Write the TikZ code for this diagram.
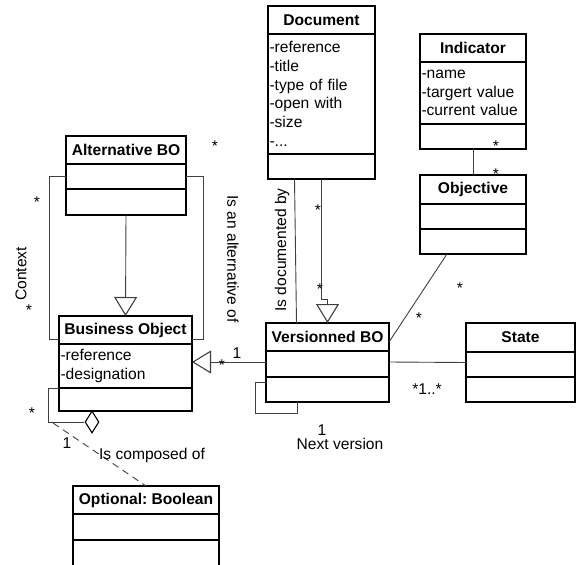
\documentclass[tikz,border=0pt]{standalone}
\usepackage{fontspec}
\setmainfont{Liberation Sans}
\usepackage{tikz}
\usetikzlibrary{arrows.meta,positioning,shapes.geometric}
\newcommand{\umlfont}{\fontsize{15.6}{18.7}\selectfont\frenchspacing}

\begin{document}
\begin{tikzpicture}[x=1pt,y=-1pt,node distance=0pt,font=\umlfont,
		class head/.style={draw,line width=1.1pt,anchor=north west,outer sep=0pt,inner sep=0pt,
			minimum width=#1,minimum height=28pt,font=\umlfont\bfseries},
		class part/.style={draw,line width=1.1pt,outer sep=0pt,inner sep=0pt,minimum width=#1,minimum height=25pt},
		class attr/.style={draw,line width=1.1pt,outer sep=0pt,inner xsep=1.5pt,inner ysep=0pt,
			text width=#1,align=left},
		assoc/.style={draw=black!75,line width=0.9pt},
		gen/.style={assoc,-{Triangle[open,length=19pt,width=23pt,line width=1.1pt]}},
		mult/.style={inner sep=0pt}]
	\useasboundingbox (0,0) rectangle (576,565);

	% classes
	\node[class head=107pt] (doc) at (268,6) {Document};
	\node[class attr=104pt,minimum height=120pt,below=of doc] (doc-attr) {-reference\\-title\\-type of file\\-open with\\-size\\-...};
	\node[class part=107pt,below=of doc-attr] (doc-ops) {};

	\node[class head=106pt] (ind) at (420,34) {Indicator};
	\node[class attr=103pt,minimum height=62pt,below=of ind] (ind-attr) {-name\\-targert value\\-current value};
	\node[class part=106pt,below=of ind-attr] (ind-ops) {};

	\node[class head=106pt,minimum height=29pt] (obj) at (420,175) {Objective};
	\node[class part=106pt,below=of obj] (obj-attr) {};
	\node[class part=106pt,below=of obj-attr] (obj-ops) {};

	\node[class head=120pt] (alt) at (66,136) {Alternative BO};
	\node[class part=120pt,below=of alt] (alt-attr) {};
	\node[class part=120pt,minimum height=26pt,below=of alt-attr] (alt-ops) {};

	\node[class head=133pt] (bo) at (59,316) {Business Object};
	\node[class attr=130pt,minimum height=44pt,below=of bo] (bo-attr) {-reference\\-designation};
	\node[class part=133pt,minimum height=23pt,below=of bo-attr] (bo-ops) {};

	\node[class head=123pt] (vbo) at (266,323) {Versionned BO};
	\node[class part=123pt,minimum height=26pt,below=of vbo] (vbo-attr) {};
	\node[class part=123pt,below=of vbo-attr] (vbo-ops) {};

	\node[class head=109pt,minimum height=29pt] (state) at (466,323) {State};
	\node[class part=109pt,below=of state] (state-attr) {};
	\node[class part=109pt,below=of state-attr] (state-ops) {};

	\node[class head=146pt] (opt) at (73,486) {Optional: Boolean};
	\node[class part=146pt,minimum height=26pt,below=of opt] (opt-attr) {};
	\node[class part=146pt,minimum height=40pt,below=of opt-attr] (opt-ops) {};

	% connectors
	\draw[gen] (alt-ops.south) -- (bo.north);
	\draw[assoc] (alt-attr.west) -| ([xshift=-10pt,yshift=-23pt]bo.north west) -- ([yshift=-23pt]bo.north west);
	\draw[assoc] (alt-attr.east) -| ([xshift=11pt,yshift=-23pt]bo.north east) -- ([yshift=-23pt]bo.north east);

	\draw[gen] (doc-ops.south) |- ([yshift=24pt]vbo.north) -- (vbo.north);
	\draw[assoc] ([xshift=-27pt]doc-ops.south) -- ([xshift=-31pt]vbo.north);

	\draw[assoc] (ind-ops.south) -- (obj.north);
	\draw[assoc] ([xshift=27pt]obj-ops.south west) -- ([yshift=-5pt]vbo.east);
	\draw[assoc] (vbo-attr.west -| vbo-attr.east) ++(0,-2) -- ([yshift=2pt]state-attr.west);
	\draw[gen] ([yshift=2pt]vbo-attr.west) -- ([yshift=2pt]vbo-attr.west -| bo-attr.east);
	\draw[assoc] ([yshift=-5pt]vbo-ops.north west) -| ([xshift=-11pt,yshift=-11pt]vbo-ops.south west)
		-| ([xshift=31pt]vbo-ops.south west);

	\node[diamond,draw,line width=1.1pt,fill=white,inner sep=0pt,minimum width=14pt,minimum height=22pt] (comp) at (92,422) {};
	\draw[assoc] (bo-attr.south west) -- ++(-11,0) |- (comp.west);
	\coordinate (comp-end) at (53,423);
	\draw[assoc,dashed,dash pattern=on 7pt off 5pt] (comp-end) -- (opt.north);

	% labels
	\node[mult] (m-alt1) at (215,146) {*};
	\node[mult] (m-ctx1) at (37,202) {*};
	\node[mult] (m-ctx2) at (29,310) {*};
	\node[rotate=90] (l-ctx) at (21,274) {Context};
	\node[rotate=-90] (l-alt) at (233,259) {Is an alternative of};
	\node[mult] (m-doc1) at (318,210) {*};
	\node[mult] (m-doc2) at (320,289) {*};
	\node[rotate=90] (l-doc) at (282,250) {Is documented by};
	\node[mult] (m-ind1) at (496,146) {*};
	\node[mult] (m-ind2) at (496,174) {*};
	\node[mult] (m-obj1) at (460,288) {*};
	\node[mult] (m-obj2) at (419,318) {*};
	\node[mult] (m-state) at (427,389) {*1..*};
	\node[mult] (m-vbo1) at (237,353) {1};
	\node[mult] (m-vbo2) at (222,365) {*};
	\node[mult] (m-next) at (322,430) {1};
	\node[mult] (l-next) at (340,444) {Next version};
	\node[mult] (m-comp1) at (32,413) {*};
	\node[mult] (m-comp2) at (67,443) {1};
	\node[mult] (l-comp) at (152,455) {Is composed of};
\end{tikzpicture}
\end{document}
